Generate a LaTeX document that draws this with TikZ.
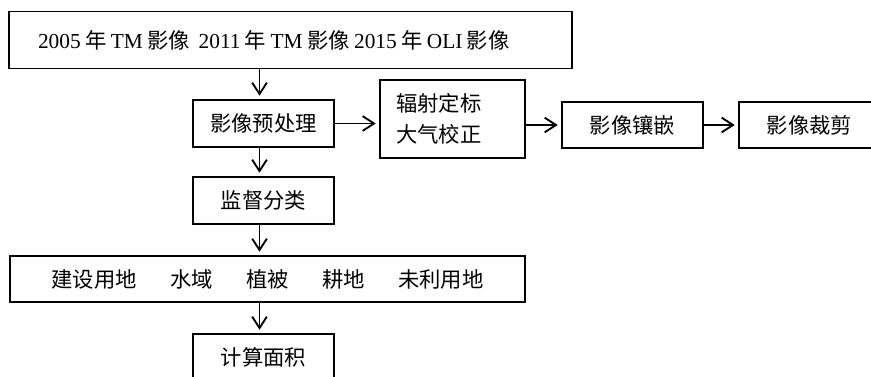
\documentclass[tikz,border=0pt]{standalone}
\usepackage{fontspec}
\setmainfont{Liberation Serif}
\newfontfamily\cjk{Noto Sans CJK SC}
\usetikzlibrary{arrows.meta}
\newcommand{\gapsp}{\hspace{3.3pt}}
\tikzset{
  box/.style={draw, line width=1.4pt, inner sep=0pt, font=\fontsize{16}{23}\selectfont},
  arr/.style={line width=1.4pt, -{Straight Barb[length=8.5pt,width=11pt,line width=1.4pt]}, shorten >=2.5pt},
  vshift/.style={xshift=-3pt}
}
\begin{document}
\begin{tikzpicture}[x=0.75pt,y=-0.75pt]
\useasboundingbox (0,0) rectangle (871,377);
\begin{scope}
\clip (0,0) rectangle (871,377);
\node[box, minimum width=563*0.75pt, minimum height=57*0.75pt, text width=505*0.75pt, align=left] (src) at (290.5,40)
  {2005\gapsp{\cjk 年}\gapsp TM\gapsp{\cjk 影像}\gapsp\gapsp 2011\gapsp{\cjk 年}\gapsp TM\gapsp{\cjk 影像}\gapsp 2015\gapsp{\cjk 年}\gapsp OLI\gapsp{\cjk 影像}};
\node[box, minimum width=141*0.75pt, minimum height=47*0.75pt] (pre) at (263.5,123.5) {\cjk 影像预处理};
\node[box, minimum width=145*0.75pt, minimum height=78*0.75pt, text width=145*0.75pt-24pt, align=left] (rad) at (452.5,119)
  {\cjk 辐射定标\\大气校正};
\node[box, minimum width=141*0.75pt, minimum height=46*0.75pt] (mos) at (632.5,125) {\cjk 影像镶嵌};
\node[box, minimum width=141*0.75pt, minimum height=46*0.75pt] (cut) at (809.5,125) {\cjk 影像裁剪};
\node[box, minimum width=141*0.75pt, minimum height=47*0.75pt] (cls) at (263.5,200.5) {\cjk 监督分类};
\node[box, minimum width=515*0.75pt, minimum height=46*0.75pt] (lu) at (267.5,279)
  {\cjk 建设用地\hspace{25pt}水域\hspace{25pt}植被\hspace{25pt}耕地\hspace{25pt}未利用地};
\node[box, minimum width=141*0.75pt, minimum height=47*0.75pt] (area) at (263.5,357.5) {\cjk 计算面积};
\end{scope}
\draw[arr] ([vshift]src.south -| pre.north) -- ([vshift]pre.north);
\draw[arr] (pre.east) -- (pre.east -| rad.west);
\draw[arr] (rad.east |- mos.west) -- (mos.west);
\draw[arr] (mos.east) -- (cut.west);
\draw[arr] ([vshift]pre.south) -- ([vshift]cls.north);
\draw[arr] ([vshift]cls.south) -- ([vshift]cls.south |- lu.north);
\draw[arr] ([vshift]lu.south -| area.north) -- ([vshift]area.north);
\end{tikzpicture}
\end{document}
